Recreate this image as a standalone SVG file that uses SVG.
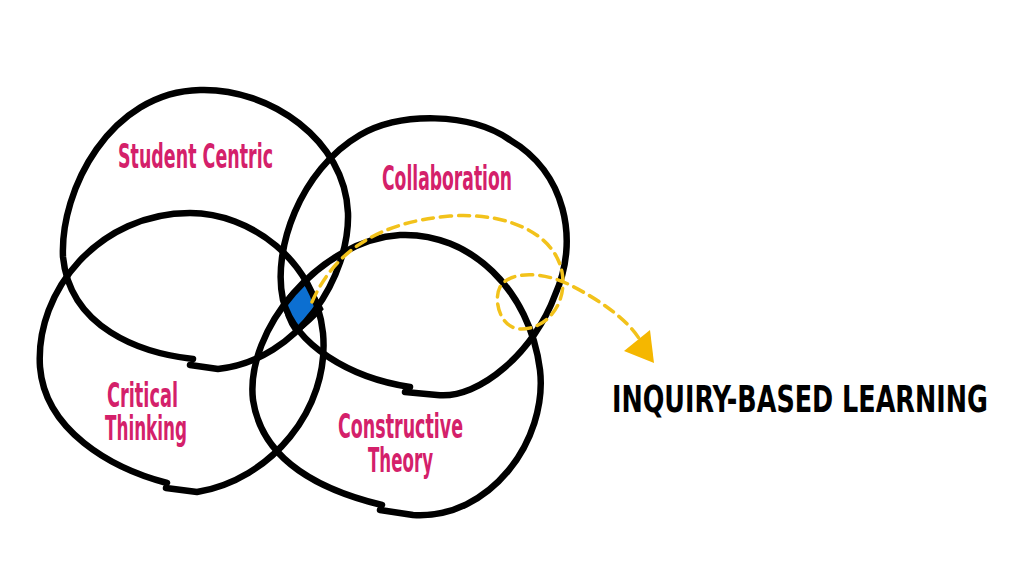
<svg xmlns="http://www.w3.org/2000/svg" width="1024" height="576" viewBox="0 0 1024 576">
<style>
.loop{fill:none;stroke:#000;stroke-width:6.5;stroke-linecap:round;stroke-linejoin:round}
.lbl{font-family:"DejaVu Sans Condensed","DejaVu Sans",sans-serif;font-weight:bold;font-size:33px;fill:#d4206a}
.title{font-family:"DejaVu Sans Condensed","DejaVu Sans",sans-serif;font-weight:bold;font-size:37px;fill:#000}
.dash{fill:none;stroke:#f2c21b;stroke-width:3.5;stroke-dasharray:11 7;stroke-linecap:round}
</style>
<rect width="1024" height="576" fill="#fff"/>
<g id="center-overlap">
<path d="M285,301 C291,293 297,287 304,283 C311,290 317,298 322,309 C314,318 305,326 296,333 C289,323 284,313 285,301 Z" fill="#0c6fd1" stroke="#000" stroke-width="3"/>
</g>
<g id="student-centric">
<path class="loop" d="M193,359 C140,353 70,328 63,257 C60,190 110,92 200,90 C270,88 345,140 348,213 C350,275 300,360 218,369 L190,365"/>
<text class="lbl" x="118" y="168" textLength="155" lengthAdjust="spacingAndGlyphs">Student Centric</text>
</g>
<g id="collaboration">
<path class="loop" d="M410,387 C350,378 295,345 283,300 C272,250 300,170 360,135 C400,112 470,112 510,140 C565,172 580,240 555,295 C535,350 480,400 437,395 L405,392"/>
<text class="lbl" x="382" y="190" textLength="130" lengthAdjust="spacingAndGlyphs">Collaboration</text>
</g>
<g id="critical-thinking">
<path class="loop" d="M167,483 C110,468 45,430 40,367 C35,290 100,213 190,213 C250,213 315,260 323,333 C330,410 270,480 197,492 L166,488"/>
<text class="lbl" x="107" y="407" textLength="71" lengthAdjust="spacingAndGlyphs">Critical</text>
<text class="lbl" x="105" y="440" textLength="82" lengthAdjust="spacingAndGlyphs">Thinking</text>
</g>
<g id="constructive-theory">
<path class="loop" d="M382,505 C320,490 262,460 253,400 C245,330 320,240 400,235 C470,232 530,290 540,370 C548,440 490,520 413,515 L380,510"/>
<text class="lbl" x="338" y="438" textLength="125" lengthAdjust="spacingAndGlyphs">Constructive</text>
<text class="lbl" x="368" y="472" textLength="65" lengthAdjust="spacingAndGlyphs">Theory</text>
</g>
<g id="connectors">
<path class="dash" d="M312,302 C335,250 380,222 450,216 C510,212 555,235 562,272 C568,305 545,330 520,329 C500,328 493,300 500,287 C510,270 545,272 570,285 C600,300 628,320 640,340"/>
<polygon points="624,351 650,330 654,363" fill="#f5b700"/>
</g>
<g id="result">
<text class="title" transform="translate(612,412) scale(0.72,1)" x="0" y="0" textLength="522" lengthAdjust="spacingAndGlyphs">INQUIRY-BASED LEARNING</text>
</g>
</svg>
